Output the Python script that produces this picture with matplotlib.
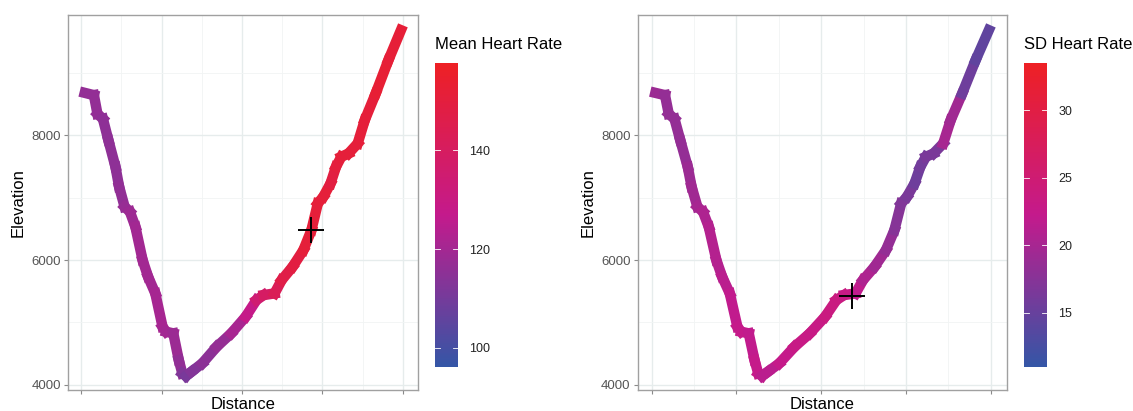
import numpy as np
import matplotlib.pyplot as plt
from matplotlib.collections import LineCollection
from matplotlib.colors import LinearSegmentedColormap, Normalize

plt.rcParams["font.family"] = ["Liberation Sans", "DejaVu Sans"]

# trail waypoints
distance = [0.22, 0.79, 1.01, 1.35, 1.69, 2.13, 2.36, 2.70, 3.03, 3.37, 3.82,
            4.16, 4.61, 5.06, 5.28, 5.73, 6.07, 6.29, 6.52, 6.86, 7.53, 8.43,
            9.33, 10.23, 10.90, 11.35, 12.03, 12.47, 13.15, 13.82, 14.32, 14.72,
            15.06, 15.51, 15.85, 16.18, 16.63, 17.20, 17.64, 18.32, 19.11, 19.89]
elevation = [8684, 8647, 8347, 8267, 7925, 7497, 7176, 6856, 6776, 6535, 6000,
             5733, 5466, 4931, 4851, 4824, 4396, 4182, 4140, 4209, 4343, 4610,
             4824, 5091, 5359, 5439, 5466, 5680, 5893, 6160, 6481, 6909,
             7016, 7230, 7497, 7658, 7711, 7872, 8246, 8674, 9208, 9690]
mean_hr = [117, 116, 117, 116, 115, 116, 115, 117, 118, 119, 120,
           119, 120, 121, 120, 119, 117, 115, 110, 112, 114, 116,
           118, 124, 132, 138, 140, 146, 148, 150, 152, 150,
           152, 150, 148, 152, 150, 152, 150, 152, 153, 150]
sd_hr = [19, 19, 18, 19, 18, 19, 19, 20, 20, 21, 21,
         21, 22, 22, 23, 22, 22, 23, 22, 21, 22, 23,
         23, 23, 24, 23, 23, 21, 20, 19, 18, 17,
         17, 16, 15, 17, 16, 17, 23, 16, 15, 14]

cursor_mean = (14.32, 6490)
cursor_sd = (11.82, 5424)

x_ticks = [0, 5, 10, 15, 20]
y_ticks = [4000, 6000, 8000]

hr_cmap = LinearSegmentedColormap.from_list(
    "hr", ["#3456A6", "#C41A8C", "#EE2024"])

fig = plt.figure(figsize=(11.33, 4.11), dpi=100)


def draw_panel(ax, cax, values, vmin, vmax, cbar_ticks, title, cursor):
    pts = np.column_stack([distance, elevation])
    segs = np.stack([pts[:-1], pts[1:]], axis=1)
    vals = np.asarray(values, dtype=float)
    norm = Normalize(vmin, vmax)
    lc = LineCollection(segs, cmap=hr_cmap, norm=norm, linewidths=7.5,
                        alpha=1.0, capstyle="projecting", joinstyle="miter")
    lc.set_array((vals[:-1] + vals[1:]) / 2)
    ax.add_collection(lc)
    ax.plot(*cursor, marker="+", color="black", markersize=19, mew=1.4)

    ax.set_xlim(-0.83, 20.95)
    ax.set_ylim(3915, 9930)
    ax.set_xticks(x_ticks)
    ax.set_xticklabels([])
    ax.set_yticks(y_ticks)
    ax.set_xticks([2.5, 7.5, 12.5, 17.5], minor=True)
    ax.set_yticks([5000, 7000, 9000], minor=True)
    ax.grid(True, which="major", color="#E6ECEC", lw=1.0)
    ax.grid(True, which="minor", color="#F1F4F4", lw=0.6)
    ax.set_axisbelow(True)
    ax.tick_params(which="major", length=3, color="#8A8A8A", labelsize=9.5,
                   labelcolor="#555555", pad=2)
    ax.tick_params(which="minor", length=0)
    for s in ax.spines.values():
        s.set_color("#A0A0A0")
        s.set_linewidth(1.0)
    ax.set_xlabel("Distance", fontsize=12, labelpad=0)
    ax.set_ylabel("Elevation", fontsize=12, labelpad=4)

    sm = plt.cm.ScalarMappable(norm=norm, cmap=hr_cmap)
    cb = fig.colorbar(sm, cax=cax, ticks=cbar_ticks)
    cb.outline.set_visible(False)
    cax.tick_params(length=0, labelsize=9, pad=8, labelcolor="#222222")
    for t in cbar_ticks:
        cax.plot([0, 0.2], [t, t], color="white", lw=0.6, transform=cax.get_yaxis_transform())
        cax.plot([0.8, 1], [t, t], color="white", lw=0.6, transform=cax.get_yaxis_transform())
    cax.text(0, 1.035, title, transform=cax.transAxes, fontsize=12,
             ha="left", va="bottom")


ax1 = fig.add_axes([0.0599, 0.051, 0.309, 0.912])
cax1 = fig.add_axes([0.3839, 0.107, 0.0203, 0.740])
draw_panel(ax1, cax1, mean_hr, 96.1, 157.7, [100, 120, 140],
           "Mean Heart Rate", cursor_mean)

ax2 = fig.add_axes([0.5627, 0.051, 0.3259, 0.912])
cax2 = fig.add_axes([0.9038, 0.107, 0.0203, 0.740])
draw_panel(ax2, cax2, sd_hr, 11.0, 33.5, [15, 20, 25, 30],
           "SD Heart Rate", cursor_sd)

fig.savefig("out.png", dpi=100)
